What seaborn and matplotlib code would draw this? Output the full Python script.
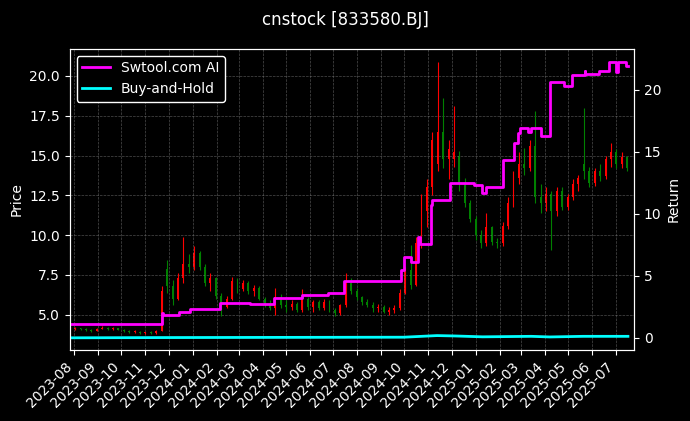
import pandas as pd
import seaborn as sns
import matplotlib.pyplot as plt
import matplotlib.dates as mdates

# weekly candles (week starting monday)
week_start = pd.date_range('2023-07-31', '2025-07-14', freq='W-MON')
opens = [4.10, 4.15, 4.08, 4.05, 4.00, 4.12, 4.20, 4.10, 4.15, 4.06,
         4.00, 3.92, 3.95, 3.85, 3.90, 3.85, 4.00, 7.90, 6.80, 6.00,
         7.30, 8.20, 8.00, 8.90, 8.00, 7.00, 7.30, 6.20, 5.50, 6.00,
         7.10, 6.60, 7.00, 6.50, 6.70, 6.00, 5.70, 5.40, 6.10, 5.60,
         5.50, 5.70, 5.30, 6.00, 5.50, 5.80, 5.40, 5.80, 5.30, 5.10,
         5.60, 7.00, 6.50, 6.10, 5.80, 5.60, 5.40, 5.50, 5.20, 5.30,
         5.40, 6.40, 7.80, 6.90, 9.50, 11.50, 13.00, 14.50, 16.50, 14.80,
         14.80, 15.00, 13.30, 12.00, 11.00, 10.00, 9.50, 10.50, 9.60, 9.50,
         10.60, 12.00, 13.60, 14.50, 14.20, 15.60, 12.40, 12.00, 12.60, 11.50,
         12.80, 11.80, 12.40, 13.20, 14.50, 14.00, 13.30, 14.00, 13.70, 14.80,
         15.20, 14.50, 14.90]
highs = [4.22, 4.20, 4.15, 4.12, 4.18, 4.28, 4.25, 4.22, 4.20, 4.10,
         4.05, 4.02, 4.00, 3.95, 3.98, 4.05, 6.80, 8.45, 7.20, 7.60,
         9.90, 8.80, 9.30, 9.00, 8.20, 7.60, 7.40, 6.40, 6.20, 7.40,
         7.30, 7.20, 7.10, 6.90, 6.80, 6.10, 5.90, 6.70, 6.30, 5.90,
         5.90, 5.80, 6.60, 6.10, 5.90, 5.90, 6.00, 5.90, 5.40, 5.70,
         7.60, 7.30, 6.70, 6.20, 6.00, 5.80, 5.70, 5.60, 5.50, 5.60,
         6.60, 8.00, 9.40, 9.90, 12.60, 13.50, 16.50, 20.90, 18.60, 16.00,
         18.10, 15.30, 13.60, 12.20, 11.20, 10.30, 11.40, 10.60, 9.80, 10.80,
         12.40, 14.00, 15.20, 15.50, 16.00, 17.80, 13.20, 13.00, 12.80, 13.00,
         13.00, 12.60, 13.50, 13.80, 18.00, 14.30, 14.20, 14.50, 15.00, 15.80,
         15.40, 15.20, 15.00]
lows = [4.02, 4.05, 3.98, 3.95, 3.98, 4.08, 4.05, 4.05, 4.02, 3.95,
        3.88, 3.85, 3.80, 3.78, 3.80, 3.82, 3.98, 6.40, 5.60, 5.90,
        7.00, 7.60, 7.80, 7.80, 6.80, 6.50, 6.00, 4.90, 5.40, 5.90,
        6.40, 6.50, 6.30, 6.20, 5.90, 5.50, 5.30, 5.00, 5.40, 5.20,
        5.30, 5.20, 5.20, 5.30, 5.20, 5.30, 5.30, 5.20, 4.95, 5.00,
        5.50, 6.30, 5.90, 5.60, 5.50, 5.20, 5.20, 5.10, 5.00, 5.10,
        5.30, 6.30, 6.60, 6.80, 9.20, 10.50, 12.50, 14.00, 14.20, 13.50,
        14.30, 12.80, 11.80, 10.80, 9.70, 9.20, 9.30, 9.40, 9.20, 9.30,
        10.40, 11.80, 13.20, 13.80, 14.00, 12.00, 11.40, 11.50, 9.10, 11.20,
        11.60, 11.60, 12.20, 12.80, 13.50, 13.00, 13.10, 13.40, 13.50, 14.30,
        14.20, 14.20, 14.00]
closes = [4.15, 4.08, 4.05, 4.00, 4.12, 4.20, 4.10, 4.15, 4.06, 4.00,
          3.92, 3.95, 3.85, 3.90, 3.85, 4.00, 6.50, 6.80, 6.00, 7.30,
          8.20, 8.00, 8.90, 8.00, 7.00, 7.30, 6.20, 5.50, 6.00, 7.10,
          6.60, 7.00, 6.50, 6.70, 6.00, 5.70, 5.40, 6.10, 5.60, 5.50,
          5.70, 5.30, 6.00, 5.50, 5.80, 5.40, 5.80, 5.30, 5.10, 5.60,
          7.00, 6.50, 6.10, 5.80, 5.60, 5.40, 5.50, 5.20, 5.30, 5.40,
          6.40, 7.80, 6.90, 9.50, 11.50, 13.00, 16.00, 16.50, 14.80, 15.40,
          15.20, 13.30, 12.00, 11.00, 10.00, 9.50, 10.50, 9.60, 9.50, 10.60,
          12.00, 13.60, 14.50, 14.20, 15.60, 12.40, 12.00, 12.60, 11.50, 12.80,
          11.80, 12.40, 13.20, 13.60, 14.00, 13.30, 14.00, 13.70, 14.80, 15.20,
          14.50, 14.90, 14.20]

# strategy cumulative return
strat_dates = ['2023-07-28', '2023-11-21', '2023-11-22', '2023-11-24', '2023-12-15',
               '2023-12-29', '2024-02-05', '2024-03-15', '2024-04-15', '2024-05-21',
               '2024-06-24', '2024-07-15', '2024-09-24', '2024-09-27', '2024-09-30',
               '2024-10-09', '2024-10-18', '2024-10-21', '2024-11-04', '2024-11-06',
               '2024-11-29', '2024-12-30', '2025-01-09', '2025-01-15', '2025-02-06',
               '2025-02-20', '2025-02-25', '2025-02-28', '2025-03-10', '2025-03-14',
               '2025-03-26', '2025-04-07', '2025-04-25', '2025-05-06', '2025-05-22',
               '2025-05-23', '2025-06-09', '2025-06-23', '2025-07-01', '2025-07-04',
               '2025-07-14', '2025-07-17']
strat_ret = [1.15, 1.15, 2.0, 1.8, 2.1,
             2.3, 2.8, 2.75, 3.2, 3.45,
             3.6, 4.55, 4.6, 5.5, 6.5,
             6.1, 8.1, 7.6, 10.7, 11.1,
             12.5, 12.3, 11.7, 12.2, 14.3,
             15.7, 16.5, 16.9, 16.6, 16.9,
             16.3, 20.6, 20.3, 21.2, 21.5,
             21.3, 21.5, 22.2, 21.4, 22.2,
             21.9, 21.9]

# buy and hold return
bh_dates = ['2023-07-28', '2023-11-22', '2024-09-30', '2024-11-12', '2024-12-05',
            '2025-01-10', '2025-03-14', '2025-04-07', '2025-05-20', '2025-07-17']
bh_ret = [0.0, 0.02, 0.05, 0.18, 0.15, 0.08, 0.12, 0.07, 0.12, 0.12]

candles = pd.DataFrame({'Date': week_start + pd.Timedelta(days=2), 'Open': opens,
                        'High': highs, 'Low': lows, 'Close': closes})
candles['color'] = ['red' if c >= o else 'green' for o, c in zip(opens, closes)]
strat = pd.DataFrame({'Date': pd.to_datetime(strat_dates), 'Return': strat_ret})
bh = pd.DataFrame({'Date': pd.to_datetime(bh_dates), 'Return': bh_ret})

plt.style.use('dark_background')
fig, ax = plt.subplots(figsize=(6.9, 4.21), dpi=100)
fig.subplots_adjust(left=0.101, right=0.919, top=0.884, bottom=0.169)

ax.vlines(candles['Date'], candles['Low'], candles['High'], colors=candles['color'], lw=0.8)
ax.bar(candles['Date'], (candles['Close'] - candles['Open']).abs().clip(lower=0.05),
       bottom=candles[['Open', 'Close']].min(axis=1), width=2.5, color=candles['color'])
ax.set_ylim(2.8, 21.7)
ax.set_ylabel('Price')
ax.grid(True, ls='--', lw=0.5, color='gray', alpha=0.6)

ax2 = ax.twinx()
sns.lineplot(data=strat, x='Date', y='Return', ax=ax2, color='magenta', lw=2,
             drawstyle='steps-post', estimator=None, label='Swtool.com AI')
sns.lineplot(data=bh, x='Date', y='Return', ax=ax2, color='cyan', lw=2,
             estimator=None, label='Buy-and-Hold')
ax2.set_ylim(-0.97, 23.3)
ax2.set_ylabel('Return')
ax2.set_xlabel('')
ax2.legend(loc='upper left', facecolor='black', edgecolor='white', framealpha=1)

ax.set_xlim(pd.Timestamp('2023-07-26'), pd.Timestamp('2025-07-25'))
ax.xaxis.set_major_locator(mdates.MonthLocator())
ax.xaxis.set_major_formatter(mdates.DateFormatter('%Y-%m'))
plt.setp(ax.get_xticklabels(), rotation=45, ha='right')
ax.set_xlabel('')

fig.suptitle('cnstock [833580.BJ]', y=0.975)
plt.savefig('out.png', dpi=100)
